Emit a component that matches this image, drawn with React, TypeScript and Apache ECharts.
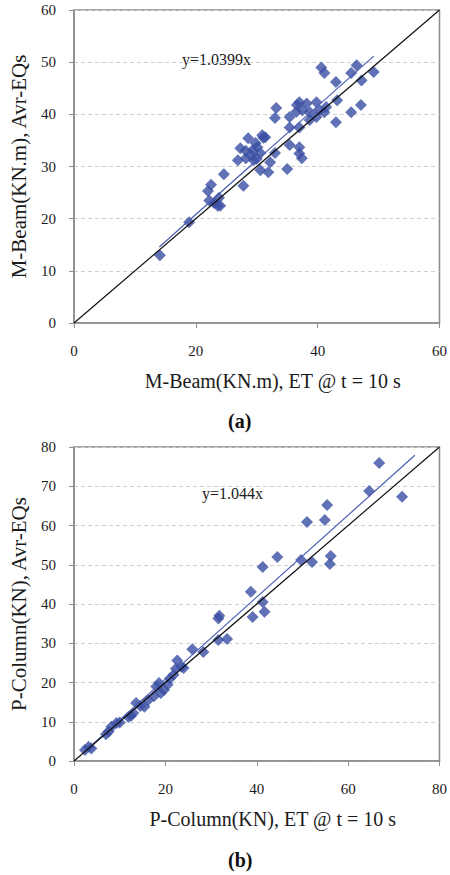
import React, { useEffect, useRef } from "react";
import * as echarts from "echarts";

const pointsA: number[][] = [
  [14.1, 13.0], [18.9, 19.3], [22.0, 25.3], [22.5, 26.5], [22.2, 23.5], [23.0, 23.0],
  [23.6, 22.5], [24.0, 22.5], [23.8, 24.0], [24.6, 28.5], [27.8, 26.3], [26.9, 31.2],
  [27.3, 33.5], [28.2, 31.6], [28.6, 35.4], [28.2, 33.0], [29.3, 33.1], [29.5, 31.2],
  [30.1, 33.7], [30.6, 32.6], [30.9, 36.0], [31.4, 35.6], [30.6, 29.3], [31.9, 28.9],
  [32.2, 30.8], [33.0, 32.6], [33.2, 41.2], [33.0, 39.3], [31.1, 35.5], [29.8, 34.5],
  [35.4, 39.5], [36.6, 41.8], [38.2, 42.1], [35.4, 37.5], [37.0, 37.5], [38.7, 38.9],
  [35.4, 34.1], [37.0, 33.7], [37.4, 31.6], [35.0, 29.5], [37.0, 32.5], [37.5, 40.8],
  [38.7, 40.4], [39.8, 39.5], [40.3, 40.8], [41.4, 41.4], [39.8, 42.3], [37.0, 42.3],
  [40.6, 49.0], [41.1, 47.9], [43.0, 46.2], [43.2, 42.7], [45.5, 47.9], [46.4, 49.4],
  [47.2, 46.5], [49.2, 48.1], [47.1, 41.8], [45.5, 40.4], [43.0, 38.5], [41.1, 40.4],
  [36.5, 40.5], [29.0, 32.2], [30.0, 31.5],
];

const pointsB: number[][] = [
  [2.4, 2.8], [3.2, 3.6], [3.8, 3.2], [7.0, 6.8], [7.6, 7.5], [8.2, 8.7], [9.3, 9.7],
  [10.0, 9.8], [11.9, 11.2], [12.5, 11.5], [13.0, 12.2], [13.6, 14.8], [14.5, 14.0],
  [15.4, 13.8], [16.2, 15.5], [17.5, 16.5], [18.0, 19.0], [18.6, 19.9], [19.0, 17.3],
  [19.7, 18.1], [20.5, 19.5], [21.0, 21.0], [21.8, 22.0], [22.3, 23.5], [22.6, 25.6],
  [23.5, 24.0], [24.0, 23.7], [25.9, 28.5], [28.3, 27.8], [31.6, 30.8], [31.8, 37.0],
  [31.6, 36.3], [33.5, 31.1], [38.7, 43.1], [39.1, 36.7], [41.3, 40.5], [41.7, 38.0],
  [41.3, 49.4], [44.5, 52.0], [49.7, 51.2], [51.0, 60.9], [52.1, 50.7], [54.9, 61.4],
  [55.4, 65.2], [56.2, 52.2], [56.0, 50.2], [64.6, 68.8], [66.8, 75.9], [71.8, 67.3],
];

const trendA: number[][] = [[14.0, 14.56], [49.2, 51.16]];
const trendB: number[][] = [[2.4, 2.51], [74.6, 77.88]];
const identityA: number[][] = [[0, 0], [60, 60]];
const identityB: number[][] = [[0, 0], [80, 80]];

const ticksA = { min: 0, max: 60, interval: 20, yInterval: 10 };
const ticksB = { min: 0, max: 80, interval: 20, yInterval: 10 };

const titleXA = "M-Beam(KN.m), ET @ t = 10 s";
const titleYA = "M-Beam(KN.m), Avr-EQs";
const titleXB = "P-Column(KN), ET @ t = 10 s";
const titleYB = "P-Column(KN), Avr-EQs";
const eqA = "y=1.0399x";
const eqB = "y=1.044x";

const FONT = "'Liberation Serif', 'Times New Roman', serif";
const AXIS_GREY = "#8c8c8c";
const BLUE = "#3a4ea3";

function xAxisCfg(gi: number, t: typeof ticksA, name: string) {
  return {
    type: "value",
    gridIndex: gi,
    min: t.min,
    max: t.max,
    interval: t.interval,
    name,
    nameLocation: "middle",
    nameGap: 48,
    nameTextStyle: { fontFamily: FONT, fontSize: 20, color: "#1a1a1a", padding: [0, 0, 0, 32] },
    axisLine: { show: true, lineStyle: { color: AXIS_GREY, width: 1.5 } },
    axisTick: { show: true, length: 5, lineStyle: { color: AXIS_GREY } },
    axisLabel: { fontFamily: FONT, fontSize: 15, color: "#1a1a1a", margin: 20 },
    splitLine: { show: false },
  };
}

function yAxisCfg(gi: number, t: typeof ticksA, name: string) {
  return {
    type: "value",
    gridIndex: gi,
    min: t.min,
    max: t.max,
    interval: t.yInterval,
    name,
    nameLocation: "middle",
    nameGap: 45,
    nameTextStyle: { fontFamily: FONT, fontSize: 21, color: "#1a1a1a" },
    axisLine: { show: true, lineStyle: { color: AXIS_GREY, width: 1.5 } },
    axisTick: { show: true, length: 5, lineStyle: { color: AXIS_GREY } },
    axisLabel: { fontFamily: FONT, fontSize: 15, color: "#1a1a1a", margin: 18 },
    splitLine: { show: true, lineStyle: { color: "#d0d0d0", type: [4, 3], width: 1 } },
  };
}

export default function App() {
  const ref = useRef<HTMLDivElement>(null);
  useEffect(() => {
    document.body.style.margin = "0";
    const chart = echarts.init(ref.current!, null, { renderer: "svg" });
    chart.setOption({
      animation: false,
      backgroundColor: "#ffffff",
      grid: [
        { left: 71, right: 8, top: 10, height: 313, show: true, borderColor: AXIS_GREY, borderWidth: 1.5 },
        { left: 72, right: 8, top: 447, height: 314, show: true, borderColor: AXIS_GREY, borderWidth: 1.5 },
      ],
      xAxis: [xAxisCfg(0, ticksA, titleXA), xAxisCfg(1, ticksB, titleXB)],
      yAxis: [yAxisCfg(0, ticksA, titleYA), yAxisCfg(1, ticksB, titleYB)],
      series: [
        {
          type: "scatter", xAxisIndex: 0, yAxisIndex: 0, data: pointsA,
          symbol: "diamond", symbolSize: 12, itemStyle: { color: BLUE }, z: 2,
        },
        {
          type: "line", xAxisIndex: 0, yAxisIndex: 0, data: trendA, showSymbol: false,
          lineStyle: { color: "#4a5db0", width: 1.2 }, z: 3,
        },
        {
          type: "line", xAxisIndex: 0, yAxisIndex: 0, data: identityA, showSymbol: false,
          lineStyle: { color: "#111", width: 1.2 }, z: 4,
        },
        {
          type: "scatter", xAxisIndex: 1, yAxisIndex: 1, data: pointsB,
          symbol: "diamond", symbolSize: 12, itemStyle: { color: BLUE }, z: 2,
        },
        {
          type: "line", xAxisIndex: 1, yAxisIndex: 1, data: trendB, showSymbol: false,
          lineStyle: { color: "#4a5db0", width: 1.2 }, z: 3,
        },
        {
          type: "line", xAxisIndex: 1, yAxisIndex: 1, data: identityB, showSymbol: false,
          lineStyle: { color: "#111", width: 1.2 }, z: 4,
        },
      ],
      graphic: [
        { type: "text", left: 182, top: 51, style: { text: eqA, font: `16px ${FONT}`, fill: "#1a1a1a" } },
        { type: "text", left: 202, top: 485, style: { text: eqB, font: `16px ${FONT}`, fill: "#1a1a1a" } },
        { type: "text", left: 228, top: 411, style: { text: "(a)", font: `bold 20px ${FONT}`, fill: "#111" } },
        { type: "text", left: 228, top: 850, style: { text: "(b)", font: `bold 20px ${FONT}`, fill: "#111" } },
      ],
    });
    return () => chart.dispose();
  }, []);
  return <div ref={ref} style={{ width: 450, height: 875 }} />;
}
